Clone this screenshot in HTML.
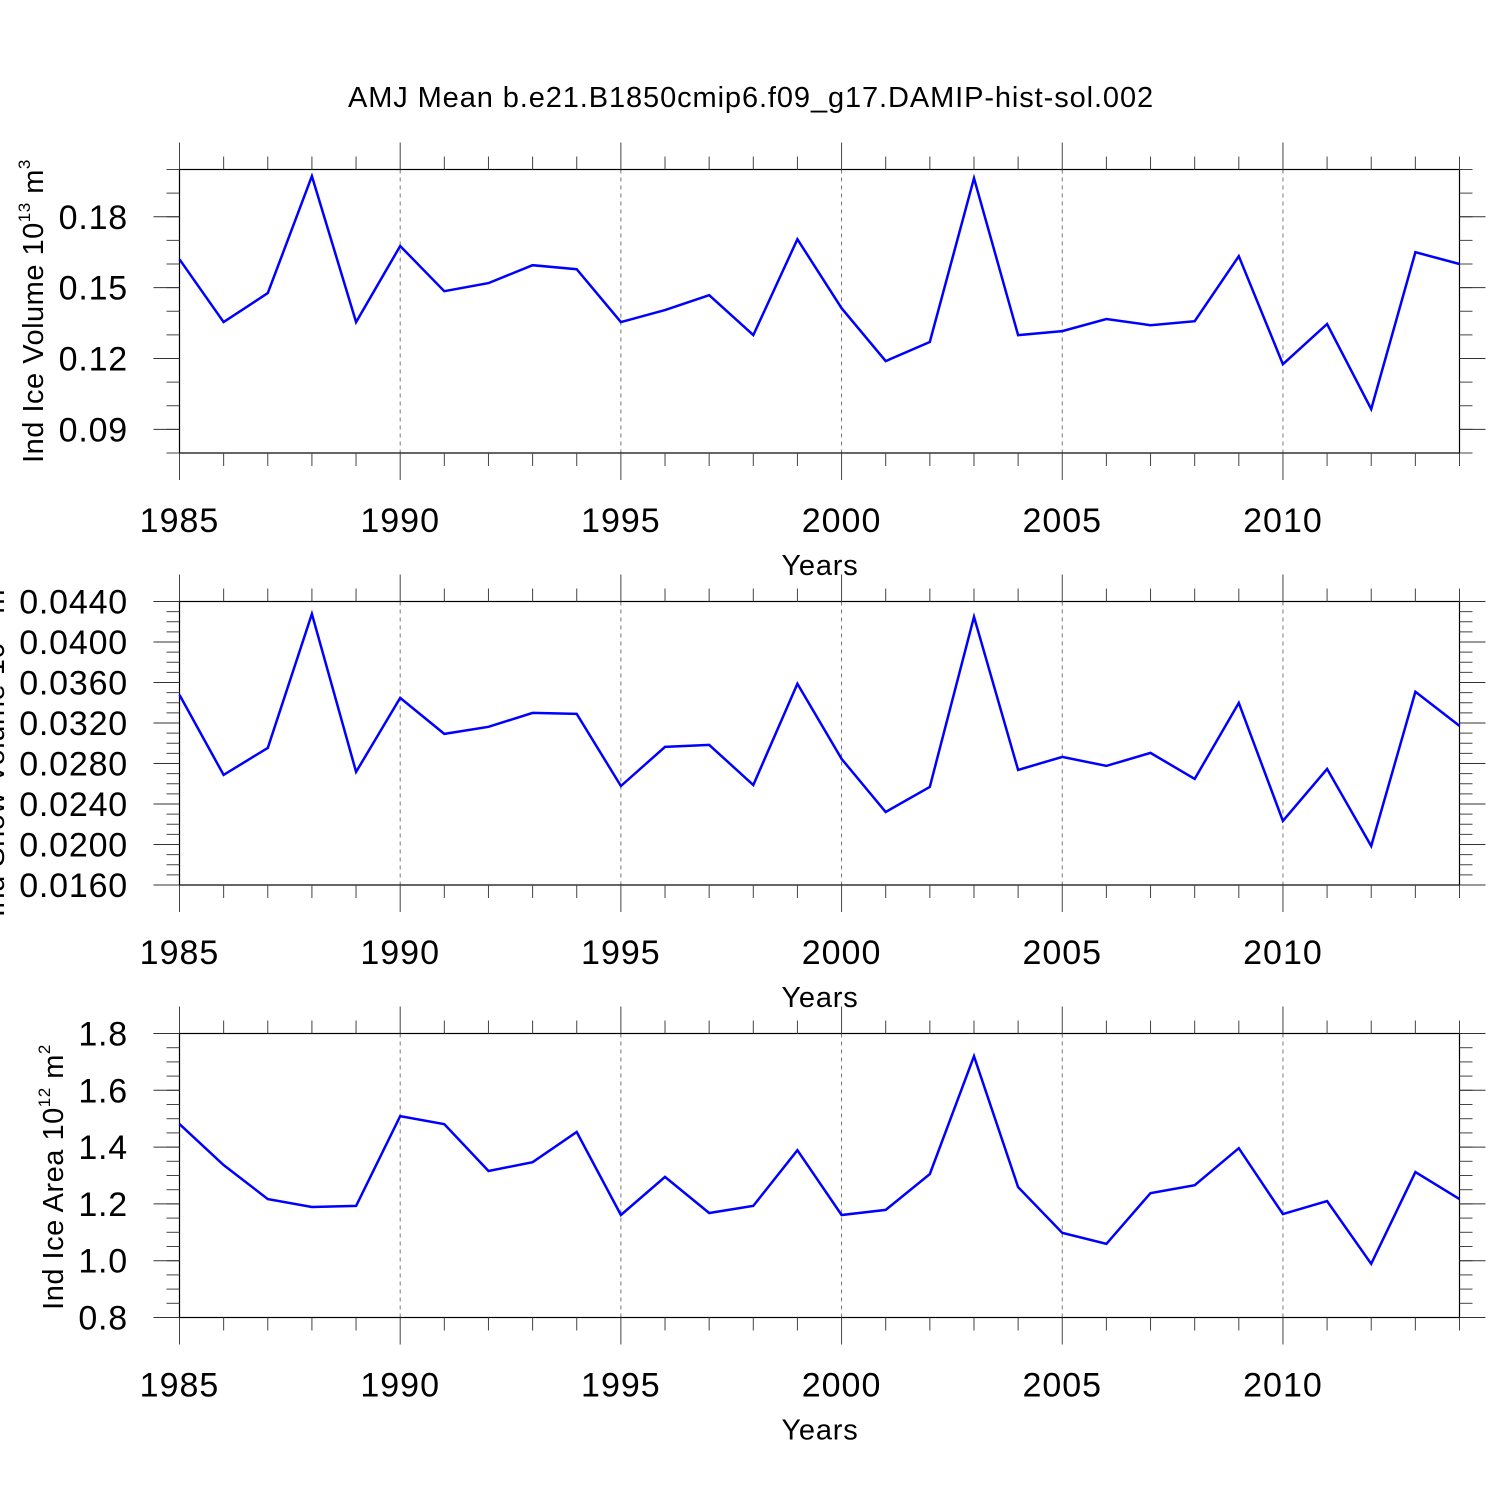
<!DOCTYPE html>
<html><head><meta charset="utf-8"><style>
html,body{margin:0;padding:0;background:#fff;}
svg{display:block;font-family:"Liberation Sans",sans-serif;}
</style></head><body>
<svg id="chart" width="1500" height="1500" viewBox="0 0 1500 1500" xmlns="http://www.w3.org/2000/svg">
<text x="751" y="107" font-size="29" letter-spacing="0.9" text-anchor="middle">AMJ Mean b.e21.B1850cmip6.f09_g17.DAMIP-hist-sol.002</text>
</svg>
<script>
const years = [1985,1986,1987,1988,1989,1990,1991,1992,1993,1994,1995,1996,1997,1998,1999,2000,2001,2002,2003,2004,2005,2006,2007,2008,2009,2010,2011,2012,2013,2014];
const iceVolume = [0.162,0.1354,0.1477,0.1972,0.1354,0.1676,0.1485,0.1519,0.1595,0.1578,0.1354,0.1405,0.1468,0.1299,0.1705,0.1413,0.1189,0.1270,0.1963,0.1299,0.1316,0.1367,0.1341,0.1358,0.1633,0.1176,0.1346,0.0986,0.1650,0.1600];
const snowVolume = [0.03478,0.02687,0.02954,0.04278,0.02717,0.03448,0.03092,0.03162,0.03300,0.03290,0.02578,0.02964,0.02984,0.02588,0.03587,0.02845,0.02321,0.02569,0.04249,0.02737,0.02865,0.02776,0.02905,0.02648,0.03399,0.02233,0.02747,0.01985,0.03508,0.03171];
const iceArea = [1.481,1.337,1.217,1.189,1.193,1.509,1.481,1.316,1.347,1.453,1.161,1.295,1.168,1.193,1.389,1.161,1.179,1.305,1.720,1.259,1.098,1.059,1.238,1.266,1.396,1.164,1.210,0.989,1.312,1.217];
const xTickLabels = ["1985","1990","1995","2000","2005","2010"];
const panel1Ticks = ["0.09","0.12","0.15","0.18"];
const panel2Ticks = ["0.0160","0.0200","0.0240","0.0280","0.0320","0.0360","0.0400","0.0440"];
const panel3Ticks = ["0.8","1.0","1.2","1.4","1.6","1.8"];

const NS="http://www.w3.org/2000/svg";
const svg=document.getElementById('chart');
const X0=179.5,X1=1459.5,XMIN=1985,XMAX=2014;
function xs(v){return X0+(v-XMIN)/(XMAX-XMIN)*(X1-X0);}
function mk(tag,attrs,parent){const e=document.createElementNS(NS,tag);for(const k in attrs)e.setAttribute(k,attrs[k]);(parent||svg).appendChild(e);return e;}

function panel(opt){
  const g=mk('g',{});
  
  
  const top=opt.top,bot=opt.bot;
  const ys=v=>bot-(v-opt.min)/(opt.max-opt.min)*(bot-top);
  for(let yr=1990;yr<=2010;yr+=5){
    const l=mk('line',{x1:xs(yr),x2:xs(yr),y1:top,y2:bot,stroke:'#777','stroke-width':1,'stroke-dasharray':'4,4'},g);
    
    
  }
  const b=mk('rect',{x:X0,y:top,width:X1-X0,height:bot-top,fill:'none',stroke:'#000','stroke-width':1.2},g);
  
  
  for(let yr=XMIN;yr<=XMAX;yr++){
    const maj=(yr%5===0);const L=maj?27:13;const x=xs(yr);
    mk('line',{x1:x,x2:x,y1:bot,y2:bot+L,stroke:'#444','stroke-width':1},g);
    mk('line',{x1:x,x2:x,y1:top,y2:top-L,stroke:'#444','stroke-width':1},g);
  }
  xTickLabels.forEach(s=>{
    const t=mk('text',{x:xs(+s),y:bot+79,'font-size':34,'letter-spacing':1,'text-anchor':'middle'},g);
    t.textContent=s;
    
    
  });
  const xt=mk('text',{x:820,y:bot+122,'font-size':29,'letter-spacing':0.8,'text-anchor':'middle'},g);
  xt.textContent='Years';
  
  
  const n=Math.round((opt.max-opt.min)/opt.minor);
  for(let i=0;i<=n;i++){
    const y=ys(opt.min+i*opt.minor);
    mk('line',{x1:X0,x2:X0-13,y1:y,y2:y,stroke:'#444','stroke-width':1},g);
    mk('line',{x1:X1,x2:X1+13,y1:y,y2:y,stroke:'#444','stroke-width':1},g);
  }
  opt.ticks.forEach(s=>{
    const y=ys(+s);
    mk('line',{x1:X0,x2:X0-26,y1:y,y2:y,stroke:'#333','stroke-width':1},g);
    mk('line',{x1:X1,x2:X1+26,y1:y,y2:y,stroke:'#333','stroke-width':1},g);
    const t=mk('text',{x:128,y:y+12,'font-size':34,'letter-spacing':0.8,'text-anchor':'end'},g);
    t.textContent=s;
    
    
  });
  const pts=years.map((yr,i)=>xs(yr).toFixed(1)+','+ys(opt.data[i]).toFixed(1)).join(' ');
  const pl=mk('polyline',{points:pts,fill:'none',stroke:'#0000ff','stroke-width':2.5,'stroke-linejoin':'miter'},g);
  
  
  const yt=mk('text',{transform:`translate(${opt.lx},${opt.lc}) rotate(-90)`,'font-size':29,'letter-spacing':0.5,'text-anchor':'middle'},g);
  
  
  yt.innerHTML=opt.label+' 10<tspan font-size="17" dy="-13">'+opt.exp1+'</tspan><tspan dy="13"> m</tspan><tspan font-size="17" dy="-13">'+opt.exp2+'</tspan>';
}
panel({name:'ice-volume-panel',top:169.5,bot:453,min:0.08,max:0.20,minor:0.01,ticks:panel1Ticks,data:iceVolume,lx:43,lc:311,label:'Ind Ice Volume',exp1:'13',exp2:'3'});
panel({name:'snow-volume-panel',top:601.5,bot:885,min:0.016,max:0.044,minor:0.001,ticks:panel2Ticks,data:snowVolume,lx:4,lc:748,label:'Ind Snow Volume',exp1:'13',exp2:'3'});
panel({name:'ice-area-panel',top:1033.5,bot:1317.5,min:0.8,max:1.8,minor:0.05,ticks:panel3Ticks,data:iceArea,lx:63,lc:1177,label:'Ind Ice Area',exp1:'12',exp2:'2'});
</script>
</body></html>
